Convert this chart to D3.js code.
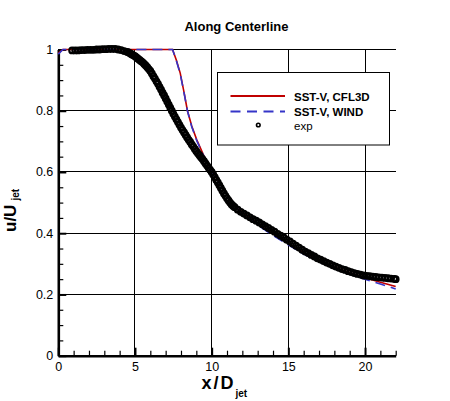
<!DOCTYPE html>
<html><head><meta charset="utf-8">
<script src="https://cdn.jsdelivr.net/npm/d3@7"></script>
<style>body{margin:0;background:#fff;}svg{display:block;}</style>
</head><body><svg id="c" width="450" height="401"></svg>
<script>
// ---------- data ----------
const chartTitle = "Along Centerline";
const seriesNames = ["SST-V, CFL3D", "SST-V, WIND", "exp"];
const xTicks = [0, 5, 10, 15, 20];
const xTickLabels = ["0", "5", "10", "15", "20"];
const xMinor = [1,2,3,4,6,7,8,9,11,12,13,14,16,17,18,19,21,22];
const yTicks = [0, 0.2, 0.4, 0.6, 0.8, 1];
const yTickLabels = ["0", "0.2", "0.4", "0.6", "0.8", "1"];
const yMinor = [0.05,0.1,0.15,0.25,0.3,0.35,0.45,0.5,0.55,0.65,0.7,0.75,0.85,0.9,0.95];

const cfl3dX = [0.0, 0.3, 7.45, 7.7, 7.95, 8.2, 8.42, 8.7, 9.03, 9.5, 10.0, 10.5, 11.0, 11.5, 12.0, 13.0, 14.0, 15.0, 16.0, 17.0, 18.0, 19.0, 20.0, 21.0, 22.0];
const cfl3dY = [0.988, 1.0, 1.0, 0.965, 0.923, 0.86, 0.80, 0.75, 0.705, 0.652, 0.605, 0.565, 0.527, 0.494, 0.468, 0.432, 0.398, 0.367, 0.337, 0.311, 0.290, 0.271, 0.255, 0.240, 0.226];

const windX = [0.0, 0.3, 7.45, 7.7, 7.95, 8.2, 8.42, 8.7, 9.03, 9.5, 10.0, 10.5, 11.0, 11.5, 12.0, 13.0, 14.0, 15.0, 16.0, 17.0, 18.0, 19.0, 20.0, 21.0, 22.0];
const windY = [0.985, 1.0, 1.0, 0.963, 0.920, 0.858, 0.80, 0.748, 0.702, 0.650, 0.603, 0.563, 0.525, 0.491, 0.464, 0.427, 0.393, 0.362, 0.332, 0.307, 0.285, 0.266, 0.250, 0.234, 0.218];

const expData = [
 [0.9,0.997],[1.1,0.997],[1.3,0.997],[1.5,0.998],[1.7,0.998],[1.9,0.999],[2.1,0.999],[2.3,0.999],
 [2.5,1.000],[2.7,1.000],[2.9,1.001],[3.1,1.001],[3.3,1.002],[3.5,1.002],[3.7,1.002],[3.9,1.000],
 [4.1,0.998],[4.3,0.995],[4.5,0.992],[4.6,0.990],[4.7,0.987],[4.8,0.984],[4.9,0.981],[5.0,0.978],
 [5.1,0.974],[5.2,0.970],[5.3,0.966],[5.4,0.962],[5.5,0.958],[5.6,0.953],[5.7,0.948],[5.8,0.942],
 [5.9,0.936],[6.0,0.930],[6.1,0.922],[6.2,0.913],[6.3,0.905],[6.4,0.896],[6.5,0.888],[6.6,0.878],
 [6.7,0.869],[6.8,0.859],[6.9,0.850],[7.0,0.840],[7.1,0.830],[7.2,0.820],[7.3,0.810],[7.4,0.800],
 [7.5,0.790],[7.6,0.781],[7.7,0.772],[7.8,0.763],[7.9,0.754],[8.0,0.745],[8.1,0.737],[8.2,0.729],
 [8.3,0.721],[8.4,0.713],[8.5,0.705],[8.6,0.698],[8.7,0.690],[8.8,0.683],[8.9,0.675],[9.0,0.668],
 [9.1,0.661],[9.2,0.655],[9.3,0.648],[9.4,0.642],[9.5,0.635],[9.6,0.628],[9.7,0.621],[9.8,0.614],
 [9.9,0.607],[10.0,0.600],[10.1,0.592],[10.2,0.583],[10.3,0.574],[10.4,0.566],[10.5,0.557],[10.6,0.548],
 [10.7,0.539],[10.8,0.530],[10.9,0.522],[11.0,0.514],[11.1,0.507],[11.2,0.500],[11.3,0.494],[11.4,0.489],
 [11.5,0.485],[11.7,0.477],[11.9,0.470],[12.1,0.464],[12.3,0.458],[12.5,0.452],[12.7,0.446],[12.9,0.441],
 [13.1,0.435],[13.3,0.429],[13.5,0.423],[13.7,0.417],[13.9,0.411],[14.1,0.405],[14.3,0.398],[14.5,0.392],
 [14.7,0.386],[14.9,0.379],[15.1,0.373],[15.3,0.366],[15.5,0.359],[15.7,0.353],[15.9,0.346],[16.1,0.340],
 [16.3,0.335],[16.5,0.329],[16.7,0.324],[16.9,0.318],[17.1,0.314],[17.3,0.309],[17.5,0.304],[17.7,0.300],
 [17.9,0.295],[18.1,0.291],[18.3,0.287],[18.5,0.283],[18.7,0.280],[18.9,0.276],[19.1,0.273],[19.3,0.270],
 [19.5,0.267],[19.7,0.265],[19.9,0.262],[20.1,0.261],[20.3,0.260],[20.5,0.258],[20.7,0.257],[20.9,0.256],
 [21.1,0.255],[21.3,0.254],[21.5,0.253],[21.7,0.252],[21.9,0.251],[22.0,0.250]
];

// ---------- drawing ----------
const FONT = "'Liberation Sans', Arial, Helvetica, sans-serif";
const RED = "#c00000", BLUE = "#3535c8";
const svg = d3.select("#c");
const L = 58.3, R = 395.7, B = 355.7, T = 49.5;
const x = d3.scaleLinear().domain([0, 22]).range([L, R]);
const y = d3.scaleLinear().domain([0, 1]).range([B, T]);

svg.append("rect").attr("width", 450).attr("height", 401).attr("fill", "#fff");

// gridlines
const grid = svg.append("g").attr("stroke", "#000").attr("stroke-width", 1).attr("shape-rendering", "crispEdges");
grid.selectAll(".gx").data(xTicks.filter(v => v > 0)).join("line")
  .attr("x1", d => x(d)).attr("x2", d => x(d)).attr("y1", y(0)).attr("y2", y(1));
grid.selectAll(".gy").data(yTicks.filter(v => v > 0)).join("line")
  .attr("x1", x(0)).attr("x2", x(22)).attr("y1", d => y(d)).attr("y2", d => y(d));

// axes
function styleAxis(g) {
  g.selectAll("text").attr("font-family", FONT).attr("font-size", 12.5).attr("fill", "#000");
  g.selectAll("line").attr("stroke", "#000");
}
const yAxis = svg.append("g").attr("transform", `translate(${L},0)`)
  .call(d3.axisLeft(y).tickValues(yTicks).tickFormat((d, i) => yTickLabels[i]).tickSize(-8).tickSizeOuter(0).tickPadding(5));
yAxis.call(styleAxis);
yAxis.selectAll(".tick line").attr("stroke-width", 2);
yAxis.select(".domain").attr("stroke-width", 2.6);
svg.append("g").attr("transform", `translate(${L},0)`)
  .call(d3.axisLeft(y).tickValues(yMinor).tickFormat("").tickSize(-5).tickSizeOuter(0))
  .call(g => g.select(".domain").remove())
  .selectAll("line").attr("stroke", "#000").attr("stroke-width", 1.2);

const xAxis = svg.append("g").attr("transform", `translate(0,${B})`)
  .call(d3.axisBottom(x).tickValues(xTicks).tickFormat((d, i) => xTickLabels[i]).tickSize(-8).tickSizeOuter(0).tickPadding(6));
xAxis.call(styleAxis);
xAxis.selectAll(".tick line").attr("stroke-width", 2);
xAxis.select(".domain").attr("stroke-width", 2.6);
svg.append("g").attr("transform", `translate(0,${B})`)
  .call(d3.axisBottom(x).tickValues(xMinor).tickFormat("").tickSize(-5).tickSizeOuter(0))
  .call(g => g.select(".domain").remove())
  .selectAll("line").attr("stroke", "#000").attr("stroke-width", 1.2);

// lines
const line = d3.line().x(d => x(d[0])).y(d => y(d[1]));
const cfl3d = cfl3dX.map((v, i) => [v, cfl3dY[i]]);
const wind = windX.map((v, i) => [v, windY[i]]);
svg.append("path").datum(cfl3d).attr("d", line).attr("fill", "none").attr("stroke", RED).attr("stroke-width", 1.6);
svg.append("path").datum(wind).attr("d", line).attr("fill", "none").attr("stroke", BLUE).attr("stroke-width", 1.6).attr("stroke-dasharray", "10,6");

// exp symbols
svg.append("g").selectAll("circle").data(expData).join("circle")
  .attr("cx", d => x(d[0])).attr("cy", d => y(d[1])).attr("r", 2.8)
  .attr("fill", "none").attr("stroke", "#000").attr("stroke-width", 2.2);

// title
svg.append("text").attr("x", 236.5).attr("y", 30.5).attr("text-anchor", "middle")
  .attr("font-family", FONT).attr("font-size", 13).attr("font-weight", "bold").text(chartTitle);

// axis titles
const xl = svg.append("text").attr("x", 201.5).attr("y", 388.5)
  .attr("font-family", FONT).attr("font-size", 18).attr("font-weight", "bold");
xl.append("tspan").attr("letter-spacing", 2).text("x/D");
xl.append("tspan").attr("font-size", 10).attr("dy", 8).attr("dx", 0).attr("letter-spacing", 0).text("jet");

const yl = svg.append("text").attr("transform", "translate(15.5,232) rotate(-90)")
  .attr("font-family", FONT).attr("font-size", 17).attr("font-weight", "bold");
yl.append("tspan").text("u/U");
yl.append("tspan").attr("font-size", 10).attr("dy", 3).attr("dx", 4).text("jet");

// legend
const lg = svg.append("g");
lg.append("rect").attr("x", 217.5).attr("y", 72.5).attr("width", 172).attr("height", 72.5)
  .attr("fill", "#fff").attr("stroke", "#000").attr("stroke-width", 1);
lg.append("line").attr("x1", 230.5).attr("x2", 285).attr("y1", 96).attr("y2", 96)
  .attr("stroke", RED).attr("stroke-width", 2);
lg.append("line").attr("x1", 230.5).attr("x2", 285).attr("y1", 111.5).attr("y2", 111.5)
  .attr("stroke", BLUE).attr("stroke-width", 2).attr("stroke-dasharray", "10,6.5");
lg.append("circle").attr("cx", 258.3).attr("cy", 125).attr("r", 1.8)
  .attr("fill", "none").attr("stroke", "#000").attr("stroke-width", 1.6);
const ly = [101, 116, 130];
lg.selectAll(".lt").data(seriesNames).join("text")
  .attr("x", 294).attr("y", (d, i) => ly[i])
  .attr("font-family", FONT).attr("font-size", 11.5)
  .attr("font-weight", (d, i) => i < 2 ? "bold" : "normal").text(d => d);
</script>
</body></html>
